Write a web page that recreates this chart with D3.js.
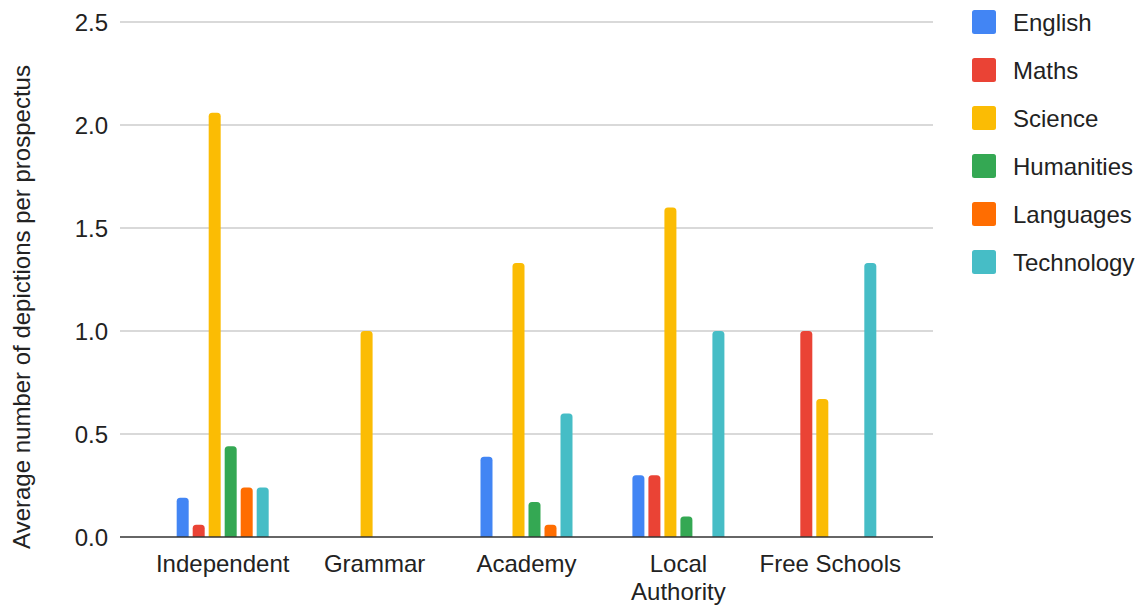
<!DOCTYPE html>
<html>
<head>
<meta charset="utf-8">
<script src="https://cdn.jsdelivr.net/npm/d3@7"></script>
<style>
  html, body { margin: 0; padding: 0; background: #fff; }
  svg { display: block; font-family: "Liberation Sans", Arial, sans-serif; }
</style>
</head>
<body>
<svg id="chart" width="1142" height="606"></svg>
<script>
// School types along the x axis
const schoolTypes = ["Independent", "Grammar", "Academy", "Local Authority", "Free Schools"];
// Subjects (one bar each per school type)
const subjects = ["English", "Maths", "Science", "Humanities", "Languages", "Technology"];
const subjectColors = ["#4285F4", "#EA4335", "#FBBC04", "#34A853", "#FF6D01", "#46BDC6"];

// Average depictions per prospectus, one array per subject, ordered as schoolTypes
const english    = [0.19, 0,    0.39, 0.30, 0];
const maths      = [0.06, 0,    0,    0.30, 1.00];
const science    = [2.06, 1.00, 1.33, 1.60, 0.67];
const humanities = [0.44, 0,    0.17, 0.10, 0];
const languages  = [0.24, 0,    0.06, 0,    0];
const technology = [0.24, 0,    0.60, 1.00, 1.33];

const yTicks = [0, 0.5, 1.0, 1.5, 2.0, 2.5];
const yTitle = "Average number of depictions per prospectus";

const seriesValues = [english, maths, science, humanities, languages, technology];

const FONT = 24;
const svg = d3.select("#chart");
const plot = { left: 120, right: 933, top: 22, bottom: 537 };

const x = d3.scaleBand()
  .domain(schoolTypes)
  .range([plot.left, plot.right])
  .paddingInner(0)
  .paddingOuter(0.176);

const groupWidth = 92;
const xInner = d3.scaleBand()
  .domain(subjects)
  .range([0, groupWidth])
  .paddingInner(0.25)
  .paddingOuter(0);

const y = d3.scaleLinear().domain([0, 2.5]).range([plot.bottom, plot.top]);

// Horizontal gridlines
svg.append("g")
  .selectAll("line")
  .data(yTicks.filter(d => d !== 0))
  .join("line")
  .attr("x1", plot.left).attr("x2", plot.right)
  .attr("y1", d => y(d)).attr("y2", d => y(d))
  .attr("stroke", "#cccccc")
  .attr("stroke-width", 1.3);

// Y axis tick labels
const yAxis = d3.axisLeft(y).tickValues(yTicks).tickFormat(d3.format(".1f")).tickSize(0).tickPadding(12);
const yg = svg.append("g").attr("transform", `translate(${plot.left},0)`).call(yAxis);
yg.select(".domain").remove();
yg.selectAll("text")
  .attr("font-size", FONT)
  .attr("fill", "#222")
  .attr("font-family", "Liberation Sans, Arial, sans-serif")
  .attr("dy", "0.36em");

// Y axis title
svg.append("text")
  .attr("transform", `translate(30, 307) rotate(-90)`)
  .attr("text-anchor", "middle")
  .attr("font-size", FONT)
  .attr("fill", "#222")
  .text(yTitle);

// Bar with rounded top corners
function barPath(x0, w, yTop, yBase, r) {
  const h = yBase - yTop;
  if (h <= 0) return "";
  const rr = Math.min(r, h, w / 2);
  return `M${x0},${yBase}` +
    `V${yTop + rr}` +
    `Q${x0},${yTop} ${x0 + rr},${yTop}` +
    `H${x0 + w - rr}` +
    `Q${x0 + w},${yTop} ${x0 + w},${yTop + rr}` +
    `V${yBase}Z`;
}

const barData = [];
schoolTypes.forEach((s, i) => {
  subjects.forEach((sub, j) => {
    barData.push({ school: s, subject: sub, value: seriesValues[j][i], color: subjectColors[j] });
  });
});

svg.append("g")
  .selectAll("path")
  .data(barData.filter(d => d.value > 0))
  .join("path")
  .attr("d", d => {
    const gx = x(d.school) + x.bandwidth() / 2 - groupWidth / 2;
    return barPath(gx + xInner(d.subject), xInner.bandwidth(), y(d.value), y(0), 3.5);
  })
  .attr("fill", d => d.color);

// Baseline
svg.append("line")
  .attr("x1", plot.left).attr("x2", plot.right)
  .attr("y1", y(0)).attr("y2", y(0))
  .attr("stroke", "#333")
  .attr("stroke-width", 1.5);

// X axis labels (wrapped where too long)
const xLabels = svg.append("g");
schoolTypes.forEach(s => {
  const cx = x(s) + x.bandwidth() / 2;
  const words = s === "Local Authority" ? ["Local", "Authority"] : [s];
  const t = xLabels.append("text")
    .attr("x", cx)
    .attr("y", 572)
    .attr("text-anchor", "middle")
    .attr("font-size", FONT)
    .attr("fill", "#222");
  words.forEach((w, k) => {
    t.append("tspan").attr("x", cx).attr("dy", k === 0 ? 0 : 28).text(w);
  });
});

// Legend
const legend = svg.append("g");
subjects.forEach((sub, j) => {
  const cy = 22 + j * 48;
  legend.append("rect")
    .attr("x", 972).attr("y", cy - 12)
    .attr("width", 24).attr("height", 24)
    .attr("rx", 2.5)
    .attr("fill", subjectColors[j]);
  legend.append("text")
    .attr("x", 1013).attr("y", cy)
    .attr("dy", "0.36em")
    .attr("font-size", FONT)
    .attr("fill", "#222")
    .text(sub);
});
</script>
</body>
</html>
